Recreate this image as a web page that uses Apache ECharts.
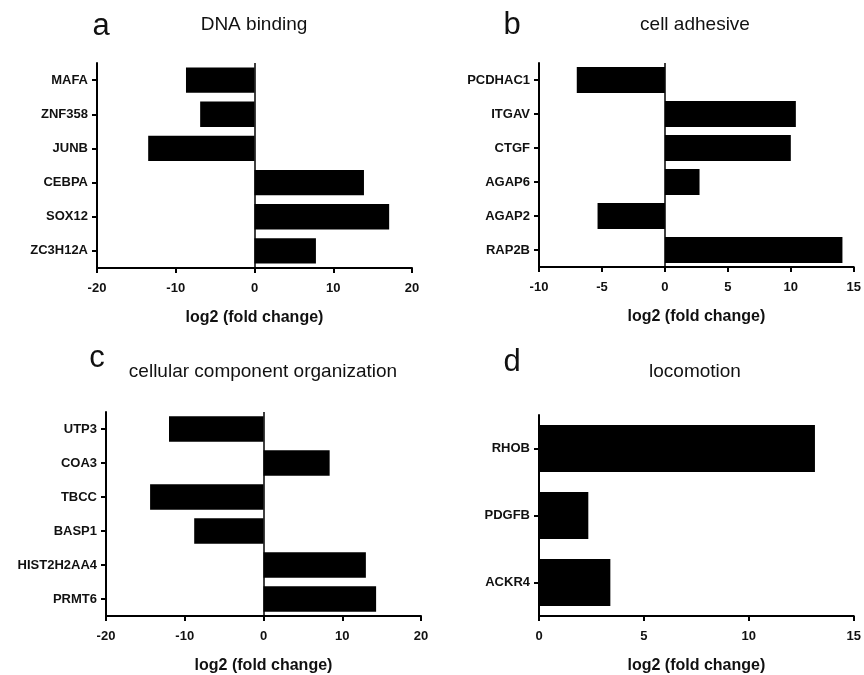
<!DOCTYPE html>
<html>
<head>
<meta charset="utf-8">
<script src="https://cdn.jsdelivr.net/npm/echarts@6/dist/echarts.min.js"></script>
<style>
html,body{margin:0;padding:0;background:#fff;}
#main{width:864px;height:675px;}
</style>
</head>
<body>
<div id="main"></div>
<script>
// panel a - DNA binding
var genesA = ['MAFA', 'ZNF358', 'JUNB', 'CEBPA', 'SOX12', 'ZC3H12A'];
var foldA = [-8.7, -6.9, -13.5, 13.9, 17.1, 7.8];
// panel b - cell adhesive
var genesB = ['PCDHAC1', 'ITGAV', 'CTGF', 'AGAP6', 'AGAP2', 'RAP2B'];
var foldB = [-7.0, 10.4, 10.0, 2.75, -5.35, 14.1];
// panel c - cellular component organization
var genesC = ['UTP3', 'COA3', 'TBCC', 'BASP1', 'HIST2H2AA4', 'PRMT6'];
var foldC = [-12.0, 8.4, -14.4, -8.8, 13.0, 14.3];
// panel d - locomotion
var genesD = ['RHOB', 'PDGFB', 'ACKR4'];
var foldD = [13.15, 2.35, 3.4];

var panelTitles = ['DNA binding', 'cell adhesive', 'cellular component organization', 'locomotion'];
var panelLetters = ['a', 'b', 'c', 'd'];
var xName = 'log2 (fold change)';

var FONT = '"Liberation Sans", Arial, Helvetica, sans-serif';

var grids = [
    {left: 97, top: 63, width: 315, height: 205},
    {left: 539, top: 63, width: 315, height: 204},
    {left: 106, top: 412, width: 315, height: 205},
    {left: 539, top: 415, width: 315, height: 201}
];
var ranges = [[-20, 20, 10], [-10, 15, 5], [-20, 20, 10], [0, 15, 5]];
var cats = [genesA, genesB, genesC, genesD];
var vals = [foldA, foldB, foldC, foldD];
var barW = ['74%', '76%', '75%', '70%'];

var xAxes = [], yAxes = [], series = [], graphics = [];
for (var i = 0; i < 4; i++) {
    xAxes.push({
        type: 'value', gridIndex: i,
        min: ranges[i][0], max: ranges[i][1], interval: ranges[i][2],
        name: xName, nameLocation: 'middle', nameGap: 42,
        nameTextStyle: {fontFamily: FONT, fontWeight: 'bold', fontSize: 16, color: '#111'},
        axisLine: {show: true, onZero: false, lineStyle: {color: '#000', width: 2}},
        axisTick: {show: true, length: 5, lineStyle: {color: '#000', width: 2}},
        axisLabel: {fontFamily: FONT, fontWeight: 'bold', fontSize: 13, color: '#111', margin: 14},
        splitLine: {show: false}
    });
    yAxes.push({
        type: 'category', gridIndex: i, data: cats[i], inverse: true,
        axisLine: {show: true, onZero: false, lineStyle: {color: '#000', width: 2}},
        axisTick: {show: true, alignWithLabel: true, length: 5, lineStyle: {color: '#000', width: 2}},
        axisLabel: {fontFamily: FONT, fontWeight: 'bold', fontSize: 13, color: '#111', margin: 9},
        splitLine: {show: false}
    });
    var s = {
        type: 'bar', xAxisIndex: i, yAxisIndex: i,
        data: vals[i], barWidth: barW[i],
        itemStyle: {color: '#000'},
        silent: true
    };
    if (ranges[i][0] < 0) {
        s.markLine = {
            silent: true, symbol: 'none', label: {show: false},
            lineStyle: {color: '#000', width: 1.5, type: 'solid'},
            data: [{xAxis: 0}]
        };
    }
    series.push(s);
}

var letterPos = [[101, 26], [512, 25], [97, 358], [512, 362]];
var titlePos = [[254, 25], [695, 25], [263, 372], [695, 372]];
for (var j = 0; j < 4; j++) {
    graphics.push({
        type: 'text', x: letterPos[j][0], y: letterPos[j][1],
        style: {text: panelLetters[j], font: '31px ' + FONT, fill: '#111', textAlign: 'center', textVerticalAlign: 'middle'}
    });
    graphics.push({
        type: 'text', x: titlePos[j][0], y: titlePos[j][1],
        style: {text: panelTitles[j], font: '19px ' + FONT, fill: '#111', textAlign: 'center', textVerticalAlign: 'middle'}
    });
}

var chart = echarts.init(document.getElementById('main'));
chart.setOption({
    animation: false,
    backgroundColor: '#fff',
    grid: grids,
    xAxis: xAxes,
    yAxis: yAxes,
    series: series,
    graphic: graphics
});
</script>
</body>
</html>
